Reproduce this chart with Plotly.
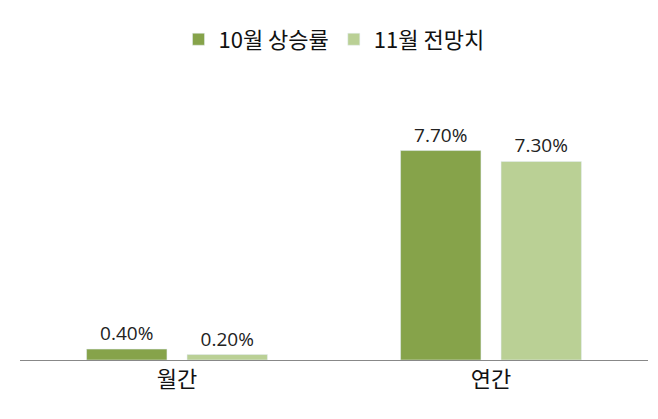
import plotly.graph_objects as go

categories = ["월간", "연간"]
series_names = ["10월 상승률", "11월 전망치"]
oct_values = [0.40, 7.70]
nov_values = [0.20, 7.30]
colors = ["#86A34A", "#BAD095"]

fig = go.Figure()
for name, vals, c in zip(series_names, [oct_values, nov_values], colors):
    fig.add_trace(go.Bar(
        x=categories, y=vals, name=name, marker_color=c,
        text=[f"{v:.2f}%" for v in vals], textposition="outside",
        textfont=dict(size=19, color="#222222", family="Open Sans"), cliponaxis=False,
    ))

fig.update_layout(
    width=658, height=419, barmode="group", bargap=0.36, bargroupgap=0.2,
    margin=dict(l=12, r=18, t=80, b=67, autoexpand=False),
    paper_bgcolor="white", plot_bgcolor="white",
    font=dict(family="Noto Sans CJK KR", color="#111111"),
    legend=dict(orientation="h", x=0.5, xanchor="center", yref="container", y=0.925,
                yanchor="middle", font=dict(size=22), itemwidth=30),
    xaxis=dict(showline=True, linecolor="#888888", linewidth=1, ticks="",
               tickfont=dict(size=22)),
    yaxis=dict(range=[0, 10], visible=False),
)
fig.write_html("out.html")
